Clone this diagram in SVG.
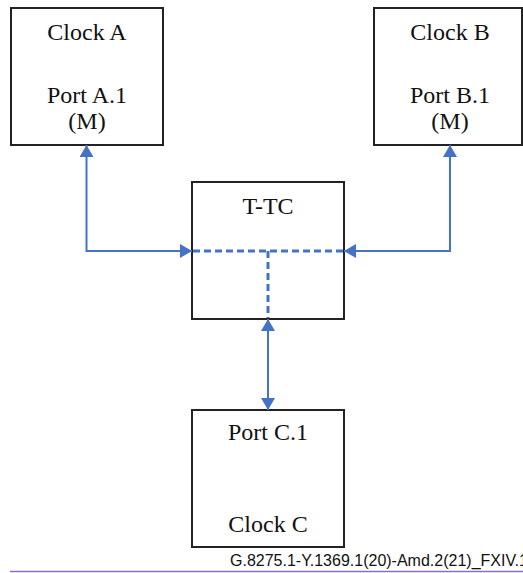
<svg xmlns="http://www.w3.org/2000/svg" width="523" height="573" viewBox="0 0 523 573">
<defs>
<style>
.box{fill:#fff;stroke:#222;stroke-width:2}
.t{font-family:"Liberation Serif","Times New Roman",serif;font-size:24px;fill:#111;text-anchor:middle}
.link{fill:none;stroke:#4472c4;stroke-width:2}
.dash{fill:none;stroke:#4472c4;stroke-width:3;stroke-dasharray:7 4}
.cap{font-family:"Liberation Sans",Arial,sans-serif;font-size:16px;fill:#111}
</style>
<marker id="ah" markerUnits="userSpaceOnUse" markerWidth="13" markerHeight="14" refX="12" refY="7" orient="auto-start-reverse" viewBox="0 0 13 14">
<path d="M0,0 L12,7 L0,14 Z" fill="#4472c4"/>
</marker>
</defs>
<rect width="523" height="573" fill="#fff"/>
<g id="clockA">
<rect class="box" x="11" y="8" width="152" height="137"/>
<text class="t" x="87" y="40">Clock A</text>
<text class="t" x="87" y="103">Port A.1</text>
<text class="t" x="87" y="129">(M)</text>
</g>
<g id="clockB">
<rect class="box" x="374" y="8" width="148" height="137"/>
<text class="t" x="450" y="40">Clock B</text>
<text class="t" x="450" y="103">Port B.1</text>
<text class="t" x="450" y="129">(M)</text>
</g>
<g id="ttc">
<rect class="box" x="192" y="182" width="152" height="137"/>
<text class="t" x="268" y="214">T-TC</text>
</g>
<g id="clockC">
<rect class="box" x="192" y="410" width="152" height="137"/>
<text class="t" x="268" y="440">Port C.1</text>
<text class="t" x="268" y="532">Clock C</text>
</g>
<g id="connectors">
<path class="link" d="M192,251 H86.5 V145" marker-start="url(#ah)" marker-end="url(#ah)"/>
<path class="link" d="M344,251 H450 V145" marker-start="url(#ah)" marker-end="url(#ah)"/>
<path class="link" d="M268,319 V410" marker-start="url(#ah)" marker-end="url(#ah)"/>
<path class="dash" d="M193,251 H344"/>
<path class="dash" d="M268,251 V318"/>
</g>
<g id="caption">
<text class="cap" x="230" y="566">G.8275.1-Y.1369.1(20)-Amd.2(21)_FXIV.1</text>
<line x1="10" y1="571.5" x2="523" y2="571.5" stroke="#8e6fc8" stroke-width="1.5"/>
</g>
</svg>
